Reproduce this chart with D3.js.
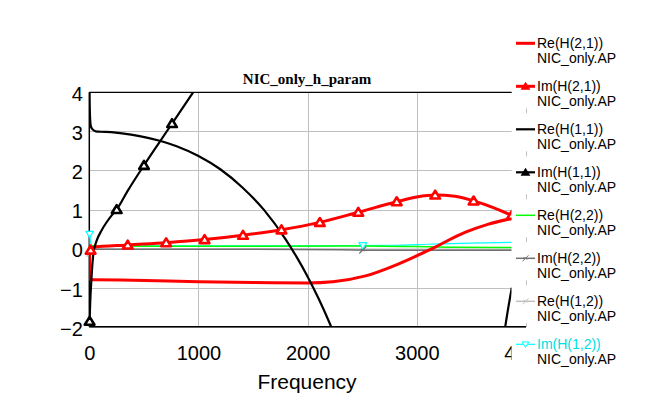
<!DOCTYPE html>
<html><head><meta charset="utf-8">
<script src="https://cdn.jsdelivr.net/npm/d3@7"></script>
<style>body{margin:0;background:#fff}svg{display:block}</style>
</head><body>
<svg id="c" width="661" height="398"></svg>
<script>
// ---- data ----
const freqTicks = [0, 1000, 2000, 3000, 4000];
const valueTicks = [-2, -1, 0, 1, 2, 3, 4];
const seriesNames = ["Re(H(2,1))", "Im(H(2,1))", "Re(H(1,1))", "Im(H(1,1))", "Re(H(2,2))", "Im(H(2,2))", "Re(H(1,2))", "Im(H(1,2))"];
const dataSetName = "NIC_only.AP";
const chartTitle = "NIC_only_h_param";
const xTitle = "Frequency";

const reH21Freq = [0, 10, 40, 400, 1000, 1500, 2000, 2230, 2530, 2835, 3140, 3446, 3650, 3870];
const reH21Val  = [0.1, -0.8, -0.8, -0.81, -0.85, -0.87, -0.88, -0.85, -0.70, -0.39, 0.0, 0.42, 0.62, 0.77];

const imH21Freq = [0, 5, 12, 30, 352, 704, 1056, 1408, 1760, 2112, 2464, 2816, 3000, 3168, 3350, 3520, 3700, 3870];
const imH21Val  = [0.1, -0.06, -0.04, 0.03, 0.09, 0.15, 0.23, 0.34, 0.48, 0.67, 0.93, 1.2, 1.32, 1.37, 1.34, 1.22, 1.05, 0.85];
const imH21Markers = [12, 352, 704, 1056, 1408, 1760, 2112, 2464, 2816, 3168, 3520, 3870];

const reH11Freq = [0, 3, 8, 15, 30, 60, 100, 200, 300, 460, 645, 800, 1000, 1200, 1400, 1600, 1800, 1900, 2000, 2100, 2200, 2300, 2600, 3000, 3400, 3700, 3790, 3810, 3870];
const reH11Val  = [5.0, 3.8, 3.3, 3.12, 3.05, 3.0, 2.99, 2.98, 2.95, 2.88, 2.76, 2.62, 2.37, 2.03, 1.57, 0.99, 0.23, -0.22, -0.72, -1.28, -1.9, -2.59, -4.5, -6.5, -5.5, -3.2, -2.4, -2.0, -1.0];

const imH11Freq = [3, 8, 12, 20, 37, 55, 68, 113, 160, 205, 251, 350, 501, 625, 758, 951, 1000];
const imH11Val  = [-1.86, -1.4, -1.15, -0.75, -0.13, 0.1, 0.21, 0.47, 0.68, 0.85, 1.0, 1.47, 2.13, 2.65, 3.2, 4.0, 4.2];
const imH11Markers = [3, 251, 501, 758];

const reH22Freq = [20, 40, 500, 1500, 2500, 3000, 3300, 3870];
const reH22Val  = [0.08, 0.07, 0.06, 0.06, 0.065, 0.05, 0.035, 0.03];

const imH22Freq = [10, 500, 1500, 2300, 2600, 3870];
const imH22Val  = [-0.02, -0.02, -0.02, -0.03, -0.04, -0.04];
const imH22Markers = [2505];

const reH12Freq = [0, 20, 2000, 3500, 3870];
const reH12Val  = [-0.15, -0.01, -0.01, -0.02, -0.02];
const reH12Markers = [5];

const imH12Freq = [0, 3, 10, 30, 1000, 2000, 2800, 3100, 3500, 3870];
const imH12Val  = [0.0, 0.37, 0.2, 0.07, 0.07, 0.07, 0.085, 0.11, 0.14, 0.16];
const imH12Markers = [3, 2505];

// ---- layout ----
const svg = d3.select("#c");
const L = 89.3, R = 526, T = 92.3, B = 326.7, PR = 511.7;
const x = d3.scaleLinear().domain([0, 4000]).range([L, R]);
const y = d3.scaleLinear().domain([-2, 4]).range([B, T]);

const series = [
  {name: seriesNames[0], f: reH21Freq, v: reH21Val, color: "#ff0000", w: 3, marker: null, mk: []},
  {name: seriesNames[1], f: imH21Freq, v: imH21Val, color: "#ff0000", w: 3, marker: "tri", mk: imH21Markers},
  {name: seriesNames[2], f: reH11Freq, v: reH11Val, color: "#000000", w: 2.2, marker: null, mk: []},
  {name: seriesNames[3], f: imH11Freq, v: imH11Val, color: "#000000", w: 2.2, marker: "tri", mk: imH11Markers},
  {name: seriesNames[4], f: reH22Freq, v: reH22Val, color: "#00ff00", w: 1.5, marker: null, mk: []},
  {name: seriesNames[5], f: imH22Freq, v: imH22Val, color: "#707070", w: 1.5, marker: "x", mk: imH22Markers},
  {name: seriesNames[6], f: reH12Freq, v: reH12Val, color: "#c0c0c0", w: 1.5, marker: "x", mk: reH12Markers},
  {name: seriesNames[7], f: imH12Freq, v: imH12Val, color: "#00ffff", w: 1.2, marker: "itri", mk: imH12Markers}
];

// clip
const defs = svg.append("defs");
defs.append("clipPath").attr("id", "plotclip").append("rect")
  .attr("x", L).attr("y", T).attr("width", PR - L).attr("height", B - T);
defs.append("clipPath").attr("id", "mkclip").append("rect")
  .attr("x", 0).attr("y", T - 10).attr("width", PR).attr("height", B - T + 20);
defs.append("clipPath").attr("id", "lblclip").append("rect")
  .attr("x", 0).attr("y", 0).attr("width", PR).attr("height", 398);

// gridlines
const g = svg.append("g");
g.append("g").attr("transform", `translate(${L},0)`)
  .call(d3.axisLeft(y).tickValues(valueTicks).tickSize(-(R - L)).tickFormat(""))
  .call(s => s.select(".domain").remove())
  .call(s => s.selectAll("line").attr("stroke", "#c0c0c0").attr("shape-rendering", "crispEdges"));
g.append("g").attr("transform", `translate(0,${B})`)
  .call(d3.axisBottom(x).tickValues(freqTicks).tickSize(-(B - T)).tickFormat(""))
  .call(s => s.select(".domain").remove())
  .call(s => s.selectAll("line").attr("stroke", "#c0c0c0").attr("shape-rendering", "crispEdges"));

// frame
svg.append("line").attr("x1", L).attr("x2", R).attr("y1", T).attr("y2", T).attr("stroke", "#000").attr("stroke-width", 1.2);
svg.append("line").attr("x1", L).attr("x2", R).attr("y1", B).attr("y2", B).attr("stroke", "#000").attr("stroke-width", 1.5);
svg.append("line").attr("x1", L).attr("x2", L).attr("y1", T).attr("y2", B).attr("stroke", "#000").attr("stroke-width", 1.5);

// tick labels
const yAx = svg.append("g").attr("transform", `translate(${L},0)`)
  .call(d3.axisLeft(y).tickValues(valueTicks).tickSize(0).tickPadding(6.5).tickFormat(d3.format("d")));
yAx.select(".domain").remove();
yAx.selectAll("text").attr("font-family", "Liberation Sans, Arial, sans-serif").attr("font-size", 20).attr("fill", "#000").attr("dy", "0.42em");

const xAxWrap = svg.append("g").attr("clip-path", "url(#lblclip)");
const xAx = xAxWrap.append("g").attr("transform", `translate(0,${B})`)
  .call(d3.axisBottom(x).tickValues(freqTicks).tickSize(0).tickPadding(19).tickFormat(d3.format("d")));
xAx.select(".domain").remove();
xAx.selectAll("text").attr("font-family", "Liberation Sans, Arial, sans-serif").attr("font-size", 20).attr("fill", "#000");

// title & axis title
svg.append("text").attr("x", 307).attr("y", 84).attr("text-anchor", "middle")
  .attr("font-family", "Liberation Serif, Times New Roman, serif").attr("font-weight", "bold").attr("font-size", 15)
  .text(chartTitle);
svg.append("text").attr("x", 307).attr("y", 389).attr("text-anchor", "middle")
  .attr("font-family", "Liberation Sans, Arial, sans-serif").attr("font-size", 21)
  .text(xTitle);

// series
const drawOrder = [7, 6, 5, 4, 0, 1, 2, 3];
const lines = svg.append("g").attr("clip-path", "url(#plotclip)");
const marks = svg.append("g").attr("clip-path", "url(#mkclip)");

function markerPath(type, s) {
  if (type === "tri") return `M0,${-s}L${s * 1.1},${s * 0.8}L${-s * 1.1},${s * 0.8}Z`;
  if (type === "itri") return `M0,${s}L${s * 1.1},${-s * 0.8}L${-s * 1.1},${-s * 0.8}Z`;
  return `M${-s},${s}L${s},${-s}M${-s * 0.6},${-s * 0.3}L${s * 0.6},${s * 0.3}`;
}

drawOrder.forEach(i => {
  const s = series[i];
  const pts = s.f.map((f, k) => [f, s.v[k]]);
  const lineGen = d3.line().x(d => x(d[0])).y(d => y(d[1])).curve(d3.curveMonotoneX);
  lines.append("path").attr("d", lineGen(pts)).attr("fill", "none")
    .attr("stroke", s.color).attr("stroke-width", s.w).attr("stroke-linejoin", "round");
  if (s.marker) {
    const interp = d3.scaleLinear().domain(s.f).range(s.v);
    s.mk.forEach(f => {
      const size = s.marker === "tri" ? 4.4 : 3.5;
      marks.append("path").attr("d", markerPath(s.marker, size))
        .attr("transform", `translate(${x(f)},${y(interp(f))})`)
        .attr("fill", s.marker === "x" ? "none" : "#fff")
        .attr("stroke", s.color)
        .attr("stroke-linejoin", "round")
        .attr("stroke-width", s.marker === "tri" ? 2.6 : 1.2);
    });
  }
});

// legend
const leg = svg.append("g");
series.forEach((s, i) => {
  const cy = 43.3 + 43 * i;
  leg.append("rect").attr("x", PR).attr("y", cy - 16).attr("width", 661 - PR).attr("height", 38).attr("fill", "#fff");
  leg.append("line").attr("x1", 516).attr("x2", 535).attr("y1", cy).attr("y2", cy)
    .attr("stroke", s.color).attr("stroke-width", Math.min(s.w, 3));
  if (s.marker) {
    leg.append("path").attr("d", markerPath(s.marker, s.marker === "tri" ? 3.5 : 3))
      .attr("transform", `translate(525.5,${cy})`)
      .attr("fill", s.marker === "tri" ? s.color : (s.marker === "itri" ? "#fff" : "none"))
      .attr("stroke", s.color).attr("stroke-width", s.marker === "tri" ? 1.2 : 1);
  }
  leg.append("text").attr("x", 537).attr("y", cy + 4.5)
    .attr("font-family", "Liberation Sans, Arial, sans-serif").attr("font-size", 14)
    .attr("fill", i === 7 ? "#00e0e0" : "#000").text(s.name);
  leg.append("text").attr("x", 537).attr("y", cy + 19.5)
    .attr("font-family", "Liberation Sans, Arial, sans-serif").attr("font-size", 14)
    .attr("fill", "#000").text(dataSetName);
});
</script>
</body></html>
